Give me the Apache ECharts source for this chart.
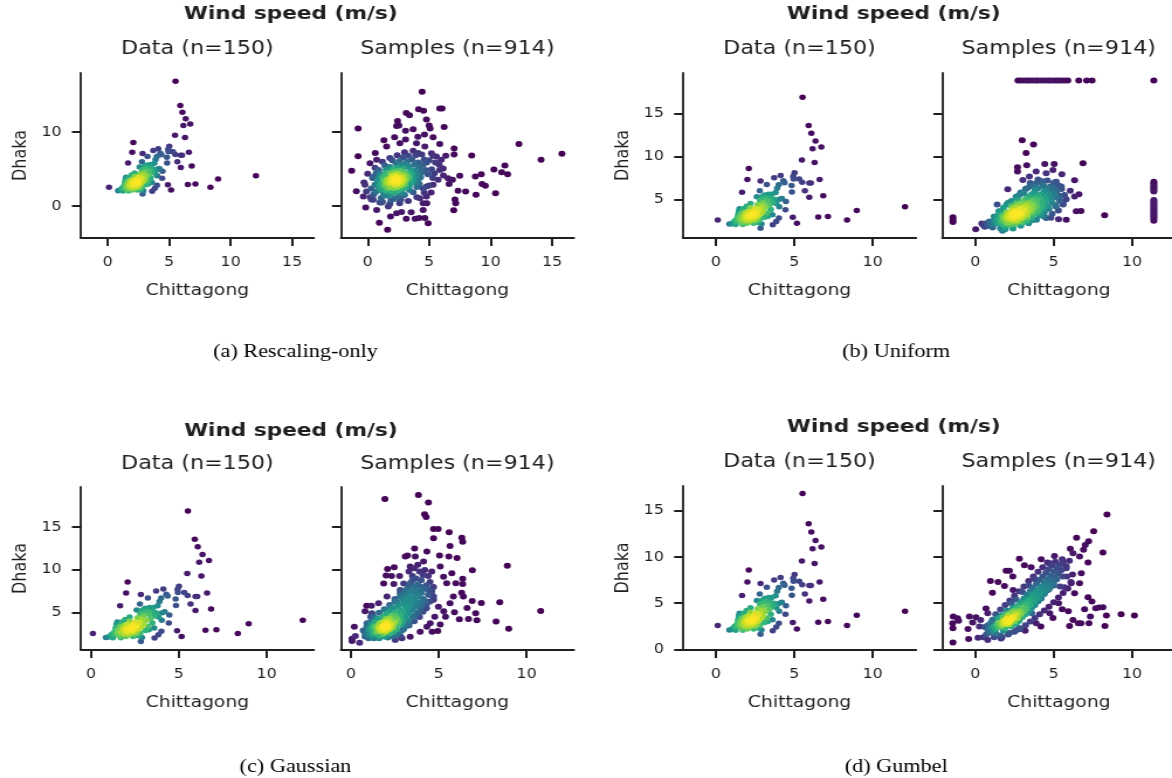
<!DOCTYPE html>
<html>
<head>
<meta charset="utf-8">
<script src="https://cdn.jsdelivr.net/npm/echarts@6/dist/echarts.min.js"></script>
<style>
  html, body { margin: 0; padding: 0; background: #ffffff; overflow: hidden; }
  #chart { width: 1002px; height: 778px; transform: scaleX(1.1697); transform-origin: 0 0; }
</style>
</head>
<body>
<div id="chart"></div>
<script>
// Observed daily wind speed pairs (Chittagong, Dhaka), m/s
const observed = [
  [5.52,16.9],[5.91,13.6],[6.08,12.7],[6.35,11.8],[6.72,11.1],[6.16,10.9],[5.48,9.58],[6.29,9.29],
  [2.09,8.6],[2.0,7.3],[2.84,7.12],[3.24,6.72],[3.71,7.52],[4.12,7.77],[4.29,7.16],[4.37,6.94],
  [5.01,8.1],[4.93,7.7],[4.95,7.37],[5.31,7.37],[5.5,7.0],[5.95,6.9],[6.05,6.9],[6.61,7.3],
  [4.82,6.61],[4.84,5.85],[5.67,6.0],[5.95,5.24],[6.84,5.42],[1.66,5.82],[2.79,6.0],[2.94,5.28],
  [4.46,4.73],[4.2,5.1],[4.03,4.12],[4.43,3.79],[4.01,2.82],[3.84,2.42],[3.62,2.02],[4.9,2.89],
  [5.16,2.2],[6.52,2.93],[7.14,3.0],[8.36,2.57],[8.98,3.69],[12.06,4.12],[0.11,2.57],[2.84,1.63],
  [0.85,2.1],[1.0,2.15],[1.1,2.3],[1.2,2.5],[1.3,2.4],[1.35,2.8],[1.4,3.2],[1.45,3.6],[1.5,2.6],
  [1.55,3.0],[1.6,2.3],[1.65,3.4],[1.7,2.7],[1.75,3.9],[1.8,3.1],[1.85,2.5],[1.9,3.5],[1.9,2.9],
  [1.95,4.2],[2.0,3.2],[2.0,2.6],[2.05,3.0],[2.1,2.8],[2.1,3.6],[2.15,2.4],[2.2,3.1],[2.2,4.0],
  [2.25,2.9],[2.3,3.3],[2.3,2.6],[2.35,3.0],[2.4,2.8],[2.4,3.6],[2.45,3.2],[2.5,2.5],[2.5,3.9],
  [2.55,3.0],[2.6,3.4],[2.6,2.7],[2.65,4.4],[2.7,3.1],[2.7,2.3],[2.75,3.8],[2.8,2.6],[2.8,4.9],
  [2.85,3.3],[2.9,4.2],[2.95,5.3],[3.0,3.6],[3.0,4.6],[3.05,5.0],[3.1,2.9],[3.1,5.5],[3.15,4.1],
  [3.2,5.2],[3.25,3.4],[3.3,4.8],[3.35,5.6],[3.4,4.3],[3.45,5.1],[3.5,3.8],[3.55,5.6],[3.6,4.6],
  [3.7,5.0],[3.8,5.8],[3.85,4.5],[3.9,6.3],[4.0,6.7],[4.05,5.0],[2.4,2.2],[2.0,2.2],[1.5,3.9],
  [2.6,5.3],[2.2,4.5],[3.3,3.0],[3.6,3.2],[2.9,2.1],[1.7,2.05],[1.25,2.05]
];

// Generated samples, rescaling-only model
const samplesRescaling = [
  [4.43,15.45],[4.14,13.1],[4.54,12.9],[5.86,13.2],[6.05,13.2],[3.14,12.6],[3.4,12.3],[2.43,11.5],
  [4.78,11.7],[-0.78,10.5],[6.22,10.7],[5.0,10.9],[5.08,10.5],[2.54,10.9],[2.35,10.85],[3.7,10.4],
  [3.08,10.2],[5.32,9.3],[4.62,9.7],[4.08,9.4],[1.32,8.9],[2.19,9.3],[3.08,9.0],[5.86,8.4],
  [7.03,7.8],[7.03,7.0],[8.46,6.85],[12.3,8.4],[15.8,7.1],[14.1,6.26],[-0.78,6.76],[0.62,7.2],
  [6.35,6.8],[-1.3,4.8],[11.16,5.5],[10.27,4.95],[10.9,4.6],[11.38,4.3],[9.24,4.3],[8.76,4.0],
  [9.3,3.0],[9.57,2.75],[7.49,4.1],[6.9,3.56],[6.62,3.0],[7.35,2.1],[7.97,1.98],[8.81,1.53],
  [10.4,1.76],[7.1,0.9],[7.16,0.4],[7.0,-0.54],[-0.92,2.03],[-0.16,-0.18],[0.95,-2.25],[1.62,-3.2],
  [1.86,-1.4],[2.76,-0.77],[3.14,-1.71],[3.86,-1.71],[4.19,-1.6],[4.65,-1.6],[4.92,-2.3],[3.54,-0.81],
  [4.51,-0.5],[4.81,0.4],[5.16,1.85],[5.43,4.46],[6.16,4.14],[6.54,3.78],[5.51,5.9],[5.81,5.59],
  [5.32,6.8],[1.68,-0.05],[1.14,0.5],[0.46,0.86],[-0.35,1.3],[-0.22,2.9],[4.24,1.08],[4.78,1.3],
  [0.19,5.8],[0.73,6.26],[1.54,8.06],[2.62,8.5],[3.97,8.5],[4.65,8.06],[5.19,7.16],[5.59,6.7],
  [5.99,6.26],[5.86,4.9],[6.14,5.1],[5.73,3.56],[4.78,2.66],[5.32,2.88],[4.51,0.4],[0.73,-0.5],
  [2.35,-0.95],
  [2.4,3.6],[2.2,3.4],[2.6,3.8],[2.3,3.9],[2.5,3.3],[2.1,3.7],[2.7,3.5],[2.4,3.1],[2.3,4.2],
  [2.8,4.0],[2.0,3.2],[2.6,3.0],[1.9,3.8],[2.9,3.7],[2.2,2.9],[2.5,4.4],[1.8,3.3],[3.0,4.2],
  [2.7,2.8],[2.0,4.1],[3.1,3.5],[1.7,3.0],[2.4,2.6],[2.9,4.6],[1.6,3.6],[3.2,4.0],[2.1,2.5],
  [2.6,4.8],[1.8,2.6],[3.3,4.5],[1.5,3.2],[2.8,2.4],[2.2,4.6],[3.4,3.8],[1.4,2.8],[3.0,3.0],
  [1.9,4.4],[3.5,4.9],[2.5,2.2],[1.3,3.5],[3.6,4.3],[2.0,2.0],[2.9,5.1],[1.2,2.4],[3.7,3.6],
  [1.7,4.5],[3.3,5.4],[2.3,1.9],[1.1,3.0],[3.9,4.8],[2.4,5.2],[1.5,2.1],[3.8,5.6],[1.0,2.2],
  [4.0,4.2],[1.4,4.1],[3.1,2.5],[2.7,5.6],[0.9,2.7],[4.2,5.2],[1.9,1.6],[3.5,3.1],[1.2,3.9],
  [4.1,5.9],[2.8,1.8],[0.8,3.4],[4.4,4.6],[2.0,5.0],[3.4,2.2],[1.6,1.4],[3.2,6.0],[0.7,2.0],
  [4.5,5.6],[1.0,4.3],[2.5,1.3],[3.9,3.2],[1.8,5.3],[4.3,3.9],[0.6,2.9],[3.6,6.3],[1.3,1.6],
  [2.6,6.1],[4.7,4.9],[0.5,1.6],[3.0,1.5],[1.5,4.9],[4.6,6.3],[2.2,1.0],[0.9,4.9],[4.0,2.6],
  [2.3,5.8],[0.4,3.8],[3.7,1.9],[1.1,1.1],[4.8,5.9],[2.9,6.6],[0.3,2.4],[4.2,3.0],[1.9,0.8],
  [3.3,6.8],[0.7,4.5],[2.7,0.9],[4.9,4.3],[1.4,5.5],[3.9,6.9],[0.2,1.2],[4.5,2.4],[2.0,6.2],
  [1.2,0.6],[4.1,7.2],
  [0.5,4.0],[0.6,5.2],[1.2,6.0],[1.8,6.5],[2.4,6.9],[3.0,7.3],[3.7,7.5],[4.4,7.0],[5.0,6.2],
  [5.2,5.0],[5.3,3.8],[5.0,2.8],[4.6,1.8],[4.0,1.2],[3.3,0.7],[2.6,0.4],[1.8,0.3],[1.0,0.5],
  [0.3,0.9],[-0.1,2.0],[-0.3,3.2],[0.0,4.4],[1.6,2.4],[2.8,3.2],[2.1,4.9],[3.4,2.8],[1.5,4.5],
  [3.1,5.7],[0.9,3.7],[4.1,3.5]
];

// Generated samples, uniform-marginal model
const samplesUniform = [
  [2.72,18.85],[2.9,18.85],[3.1,18.85],[3.3,18.85],[3.45,18.85],[3.65,18.85],[3.85,18.85],[4.0,18.85],
  [4.2,18.85],[4.4,18.85],[4.6,18.85],[4.75,18.85],[4.95,18.85],[5.15,18.85],[5.3,18.85],[5.5,18.85],
  [5.7,18.85],[5.9,18.85],[6.6,18.85],[7.1,18.85],[7.45,18.85],[11.39,18.85],
  [11.39,7.06],[11.39,6.86],[11.39,6.67],[11.39,6.47],[11.39,6.28],[11.39,6.1],[11.39,5.9],
  [11.39,4.92],[11.39,4.72],[11.39,4.53],[11.39,4.33],[11.39,4.14],[11.39,3.95],[11.39,3.75],
  [11.39,3.56],[11.39,3.37],[11.39,3.17],[11.39,2.98],[11.39,2.75],[11.39,2.5],
  [-1.43,2.9],[-1.43,2.59],[-1.43,2.35],
  [2.99,11.9],[3.71,11.4],[3.24,10.4],[3.28,8.97],[4.43,9.12],[5.03,9.12],[6.87,9.2],[2.69,8.74],
  [2.69,8.23],[5.52,7.92],[6.33,7.22],[2.07,6.17],[1.39,4.38],[0.02,1.5],[0.41,2.16],[6.06,6.0],
  [6.61,5.58],[6.33,5.31],[6.74,3.64],[6.44,3.6],[8.25,3.13],[5.8,2.6],[5.31,2.67],[4.82,2.83],
  [4.52,2.8],[4.3,3.17],[3.94,3.48],[5.59,4.53],[5.69,5.5],[5.48,6.48],[5.16,7.06],[4.52,8.03],
  [3.45,7.65],[3.03,7.26],[3.88,8.23],[4.95,8.42],[5.37,4.92],[5.16,4.14],[3.67,2.59],[3.24,2.4],
  [1.73,1.34],[0.9,2.4],
  [2.3,3.0],[2.1,2.8],[2.5,3.2],[2.2,3.3],[2.4,2.7],[2.0,3.0],[2.6,3.5],[1.9,2.6],[2.7,3.1],
  [2.3,3.6],[1.8,2.9],[2.8,3.8],[2.5,2.5],[2.1,2.4],[2.9,3.4],[1.7,2.5],[3.0,4.0],[2.4,3.9],
  [2.0,2.2],[3.1,3.7],[1.6,2.3],[3.2,4.3],[2.7,2.7],[1.5,2.7],[3.3,4.0],[2.6,4.1],[1.4,2.2],
  [3.4,4.6],[2.9,3.0],[1.3,2.5],[3.5,4.3],[2.2,2.0],[3.6,4.9],[2.8,4.4],[1.2,2.1],[3.7,4.5],
  [3.1,3.2],[1.1,2.4],[3.8,5.1],[2.5,2.1],[3.9,4.8],[3.3,3.5],[1.0,2.0],[4.0,5.4],[3.0,4.7],
  [1.8,2.0],[4.1,5.0],[3.5,3.8],[0.9,2.3],[4.2,5.6],[3.2,5.0],[4.3,4.6],[2.0,3.5],[3.7,4.0],
  [0.8,1.9],[4.4,5.9],[3.4,5.3],[4.5,5.2],[1.7,3.1],[3.9,4.2],[4.6,6.2],[0.7,2.2],[3.6,5.6],
  [4.7,5.5],[2.6,4.5],[4.0,3.8],[1.5,3.2],[4.8,6.5],[3.8,5.9],[4.9,5.8],[0.6,1.8],[4.2,4.3],
  [2.3,4.2],[5.0,6.3],[4.0,6.3],[1.3,2.9],[4.5,4.8],[5.1,7.0],[3.1,5.7],[1.9,1.7],[4.3,6.7],
  [4.8,5.0],[2.9,2.4],[5.2,6.0],[3.7,6.5],[0.5,2.0],[4.6,7.2],[5.0,5.5],[3.3,2.9],[4.4,3.5],
  [2.7,5.0],[5.3,6.6],[1.1,1.7],[3.5,6.9],[4.1,3.4],[1.6,1.6],[5.4,5.4],[4.0,7.3],[2.4,1.7],
  [5.5,6.2],
  [1.5,3.6],[1.8,4.0],[2.0,4.4],[2.3,4.8],[2.6,5.3],[2.9,5.8],[3.2,6.2],[3.5,6.6],[3.9,6.9],
  [4.3,7.1],[1.9,1.5],[2.4,1.6],[2.9,1.9],[3.4,2.2],[3.9,2.6],[4.4,3.0],[4.9,3.3],[5.3,3.7],
  [5.6,4.4],[5.8,5.0],[3.0,2.3],[3.6,2.9],[4.1,3.1],[4.7,3.9],[5.1,4.3],[5.4,4.8],[2.6,2.2],
  [3.3,2.6],[3.8,3.3],[4.6,4.2],[4.9,4.6],[5.2,5.2],[1.2,3.0],[1.6,3.6],[2.1,4.6],[2.8,5.5],
  [3.3,6.3],[3.8,6.1],[4.4,6.5],[5.0,6.9],[2.5,3.6],[2.8,3.3],[3.0,2.8],[3.3,3.2],[3.6,3.5],
  [3.9,3.7],[4.2,3.9],[4.4,4.1],[2.2,2.3],[2.7,2.5],
  [2.25,2.95],[2.35,3.05],[2.15,3.1],[2.45,2.85],[2.2,2.75],[2.4,3.25],[2.05,2.85],[2.55,3.1],
  [2.3,2.85],[2.1,3.2],[2.5,2.95],[2.35,3.35]
];

// Generated samples, Gaussian-marginal model
const samplesGaussian = [
  [1.93,18.3],[3.84,18.75],[4.41,17.9],[4.19,16.5],[4.28,16.2],[4.7,14.8],[4.96,14.8],[5.59,14.4],
  [4.7,13.7],[6.31,13.75],[6.36,13.3],[5.64,12.8],[3.62,12.5],[4.32,12.15],[3.09,11.56],[3.22,11.7],
  [5.04,11.7],[5.57,11.56],[6.04,11.4],[8.9,10.5],[6.91,9.96],[2.08,10.1],[2.46,10.3],[2.77,9.3],
  [2.0,9.34],[2.31,9.3],[1.86,8.4],[2.44,8.36],[6.36,8.98],[6.36,8.36],[5.97,8.44],[6.3,7.34],
  [6.4,6.88],[6.9,6.37],[7.42,6.13],[8.47,6.21],[10.8,5.2],[6.61,5.55],[7.1,4.92],[7.17,4.1],
  [6.69,4.26],[6.17,4.22],[5.89,5.04],[8.26,3.95],[8.98,3.12],[4.94,2.85],[4.62,2.77],[5.08,3.6],
  [4.77,4.53],[5.38,4.53],[5.28,5.16],[0.89,5.82],[1.16,5.82],[0.8,5.16],[1.12,4.53],[0.19,3.36],
  [0.06,1.95],[0.06,1.68],[0.49,1.48],[0.25,2.27],[2.52,1.8],[3.94,2.77],[4.32,3.36],[5.64,6.09],
  [5.83,6.88],[5.45,8.44],[5.74,9.6],[5.08,10.4],[5.27,9.2],[3.66,11.56],[4.13,10.98],[3.37,10.4],
  [2.8,7.66],[2.05,6.88],[1.57,6.1],[1.19,4.92],[0.91,3.75],[3.37,2.19],[2.9,2.0],[4.51,3.75],
  [4.98,5.7],[4.7,6.88],
  [1.9,3.2],[2.0,3.0],[1.8,3.4],[2.1,3.5],[1.7,2.9],[2.2,3.1],[1.9,2.7],[2.0,3.7],[1.6,3.2],
  [2.3,3.6],[1.8,2.5],[2.4,3.3],[1.5,2.8],[2.1,4.0],[2.5,3.9],[1.4,3.3],[2.2,2.6],[1.7,3.8],
  [2.6,4.3],[1.3,2.6],[2.4,2.8],[2.0,4.3],[2.7,3.7],[1.2,3.1],[2.8,4.6],[1.6,2.3],[2.3,4.6],
  [2.9,4.1],[1.1,2.4],[2.5,5.0],[3.0,5.0],[1.4,3.9],[2.6,2.5],[3.1,4.5],[1.0,2.9],[2.8,5.3],
  [3.2,5.5],[1.9,2.2],[2.2,5.1],[3.3,4.9],[0.9,2.5],[2.7,5.8],[3.4,5.9],[1.5,4.3],[3.0,6.1],
  [3.5,5.3],[2.9,2.9],[3.2,6.5],[3.6,6.3],[0.8,2.2],[2.4,5.5],[3.4,6.8],[3.7,5.7],[1.2,3.7],
  [3.1,3.4],[3.8,6.9],[3.3,7.2],[2.0,4.8],[3.9,6.2],[3.5,7.5],[2.6,6.2],[4.0,7.3],[3.6,8.0],
  [1.8,4.5],[4.1,6.6],[3.2,7.8],[3.8,8.3],[2.9,6.6],[4.2,7.8],[3.4,8.5],[4.0,8.8],[3.7,9.0],
  [4.3,8.2],[3.0,7.0],[4.1,9.4],[3.5,9.3],[4.4,7.1],[3.9,9.8],[2.8,7.3],[4.2,10.0],[3.6,10.2],
  [4.5,8.6],[3.3,9.8],[4.4,9.3],[3.8,10.6],[4.6,9.8],[4.0,5.8],[4.3,6.0],[3.3,3.8],[3.6,4.6],
  [1.0,2.0],[1.3,2.0],[2.1,2.1],[2.8,2.3],[4.6,7.5],[4.7,6.5],[3.0,8.4],[2.7,4.0],[2.5,6.6],
  [0.7,2.9],[0.9,3.4],[1.1,3.9],[1.3,4.5],[1.6,5.0],[1.9,5.4],[2.2,5.9],[2.5,6.3],[2.8,6.9],
  [3.1,7.5],[3.3,8.2],[3.5,8.8],[1.2,2.2],[1.6,2.0],[2.4,2.2],[2.7,2.7],[3.0,3.1],[3.3,3.5],
  [3.6,4.0],[3.9,4.5],[4.1,5.1],[4.3,5.5],[4.5,6.3],[4.6,7.0],[4.7,8.0],[3.9,7.6],[3.7,6.8],
  [3.4,6.1],[3.1,5.8],[2.8,5.0],[2.5,4.6],[2.2,4.3],[1.9,3.9],[1.6,3.6],[1.3,3.4],[1.1,3.2],
  [0.8,2.6],[2.6,3.1],[2.9,3.6],[3.2,4.1],[3.5,4.5],[3.8,5.0],[4.0,5.4],[4.2,6.4],[4.4,7.7],
  [4.0,8.0],[3.7,7.3],[3.1,6.6],[2.3,5.6],[2.0,5.3],
  [1.95,3.15],[1.85,3.0],[2.05,3.3],[1.75,3.1],[2.1,3.0],[1.9,3.45],[2.0,2.85],[1.8,3.25],
  [2.15,3.25],[1.95,2.95]
];

// Generated samples, Gumbel-marginal model
const samplesGumbel = [
  [8.4,14.6],[7.55,12.8],[6.46,12.1],[7.23,11.7],[7.01,11.3],[6.9,10.8],[8.14,10.5],[6.06,10.9],
  [6.23,10.4],[6.65,10.05],[7.19,9.4],[2.81,9.8],[3.13,9.1],[3.56,8.9],[5.05,10.1],[5.54,9.76],
  [4.2,9.76],[1.96,8.5],[2.17,8.5],[0.96,7.4],[1.45,7.3],[2.39,7.88],[1.86,6.87],[1.09,6.14],
  [2.41,6.43],[6.76,8.24],[6.65,7.16],[6.33,6.07],[6.12,7.16],[7.19,5.64],[7.44,5.17],[6.97,4.34],
  [7.68,4.45],[7.89,4.52],[8.14,4.55],[7.34,3.54],[8.36,3.65],[9.3,3.79],[10.15,3.65],[6.57,2.82],
  [6.74,2.82],[7.25,2.82],[8.27,2.53],[6.01,2.53],[6.23,3.18],[5.93,4.12],[5.54,4.34],[4.95,3.4],
  [4.75,3.9],[4.18,2.46],[3.88,2.82],[3.18,2.02],[2.64,2.1],[1.64,1.16],[0.79,1.01],[0.17,1.26],
  [-0.43,1.12],[-1.43,0.72],[-1.43,2.28],[-1.45,2.82],[-1.13,3.36],[-1.41,3.54],[-1.07,3.1],
  [-0.47,2.2],[-0.38,3.54],[-0.17,2.89],[0.04,3.47],[0.26,2.46],[0.34,3.18],[0.68,4.41],[0.79,3.9],
  [5.31,4.99],[5.69,6.72],[5.84,7.88],[4.73,9.32],[5.8,8.78],
  [2.1,3.0],[1.9,2.8],[2.3,3.2],[2.0,3.3],[2.2,2.7],[1.8,3.1],[2.4,3.5],[1.7,2.6],[2.5,3.0],
  [2.1,3.6],[1.6,2.9],[2.6,3.8],[2.3,2.5],[1.9,2.3],[2.7,3.4],[1.5,2.4],[2.8,4.1],[2.2,3.9],
  [1.4,2.7],[2.9,3.8],[1.8,2.0],[3.0,4.5],[2.5,4.2],[1.3,2.2],[3.1,4.1],[2.6,2.8],[1.2,2.5],
  [3.2,4.8],[2.4,4.5],[1.1,2.0],[3.3,4.4],[2.8,3.1],[1.0,2.3],[3.4,5.2],[2.7,4.7],[0.9,1.8],
  [3.5,4.8],[3.0,3.5],[1.5,3.3],[3.6,5.6],[2.9,5.1],[0.8,2.1],[3.7,5.1],[3.2,3.8],[1.3,1.7],
  [3.8,6.0],[3.1,5.5],[3.9,5.5],[2.0,4.2],[3.4,4.1],[0.7,1.6],[4.0,6.4],[3.3,5.9],[4.1,5.9],
  [1.7,3.7],[3.6,4.5],[4.2,6.8],[3.5,6.3],[4.3,6.3],[2.3,5.0],[3.8,4.8],[0.6,2.4],[4.4,7.2],
  [3.7,6.7],[4.5,6.7],[1.0,2.9],[4.0,5.2],[4.6,7.6],[3.9,7.1],[4.7,7.0],[2.6,5.4],[4.2,5.5],
  [4.8,8.0],[4.1,7.5],[4.9,7.4],[0.5,1.3],[4.4,6.0],[5.0,8.4],[4.3,7.9],[5.1,7.8],[3.0,6.2],
  [4.6,6.4],[5.2,8.8],[4.5,8.3],[5.3,8.2],[1.6,1.5],[4.8,6.8],[5.4,9.2],[4.7,8.7],[5.5,8.6],
  [2.2,1.8],[5.0,7.2],[5.6,9.5],[3.4,6.9],[5.2,7.6],[2.8,2.3],[5.8,9.0],[4.9,9.1],[5.4,6.8],
  [3.6,3.9],[5.6,7.9],[6.0,9.6],[3.8,7.6],[5.1,9.5],
  [0.8,2.6],[1.1,3.2],[1.3,3.8],[1.6,4.3],[1.9,4.8],[2.2,5.3],[2.5,5.8],[2.8,6.3],[3.1,6.8],
  [3.4,7.4],[3.7,7.9],[4.0,8.4],[4.3,8.9],[4.6,9.4],[1.2,1.3],[1.7,1.3],[2.1,1.6],[2.5,1.9],
  [2.9,2.2],[3.2,2.6],[3.5,3.0],[3.8,3.4],[4.1,3.8],[4.4,4.2],[4.7,4.6],[5.0,5.1],[5.3,5.6],
  [5.6,6.1],[5.9,6.6],[6.1,7.3],[6.2,8.1],[2.6,3.4],[2.9,3.9],[3.2,4.4],[3.5,4.8],[3.8,5.2],
  [4.1,5.7],[4.4,6.1],[4.7,6.5],[5.0,6.9],[2.0,3.8],[2.4,4.0],[2.7,4.5],[3.0,5.0],[3.3,5.4],
  [3.6,5.9],[3.9,6.3],[4.2,6.7],[1.4,3.4],[1.8,3.5],
  [2.05,3.0],[1.95,2.9],[2.15,3.1],[2.0,3.15],[2.1,2.85],[1.9,3.05],[2.2,3.0],[2.05,2.75],
  [2.25,3.25],[1.85,2.85]
];

// Tick values per panel
const ticksX_a = [0, 5, 10, 15];
const ticksY_a = [0, 10];
const ticksX_b = [0, 5, 10];
const ticksY_b = [5, 10, 15];
const ticksX_c = [0, 5, 10];
const ticksY_c = [5, 10, 15];
const ticksX_d = [0, 5, 10];
const ticksY_d = [0, 5, 10, 15];

// Sample sizes quoted in the subplot titles
const N_DATA = 150;
const N_SAMPLES = 914;

const VIRIDIS = ['#440154','#482878','#3e4989','#31688e','#26828e','#1f9e89','#35b779','#6ece58','#b5de2b','#fde725'];
const INK = '#1f1f1f';
const SANS = '"DejaVu Sans", sans-serif';

// Gaussian kernel density (Scott's factor for nominal size n, full covariance),
// scaled to [0, 1] and shaped by gamma for the colour scale
function densityShade(pts, nominal, gamma) {
  const n = pts.length;
  let mx = 0, my = 0;
  pts.forEach(p => { mx += p[0]; my += p[1]; });
  mx /= n; my /= n;
  let sxx = 0, syy = 0, sxy = 0;
  pts.forEach(p => { const dx = p[0] - mx, dy = p[1] - my; sxx += dx * dx; syy += dy * dy; sxy += dx * dy; });
  sxx /= (n - 1); syy /= (n - 1); sxy /= (n - 1);
  const f2 = Math.pow(nominal, -1 / 3);
  const a = sxx * f2, b = sxy * f2, c = syy * f2;
  const det = a * c - b * b;
  const ia = c / det, ib = -b / det, ic = a / det;
  const raw = pts.map(p => {
    let s = 0;
    for (const q of pts) {
      const dx = p[0] - q[0], dy = p[1] - q[1];
      s += Math.exp(-0.5 * (ia * dx * dx + 2 * ib * dx * dy + ic * dy * dy));
    }
    return s;
  });
  const lo = Math.min(...raw), hi = Math.max(...raw);
  return raw.map(v => Math.pow((v - lo) / (hi - lo), gamma));
}

// Panel layout (chart coordinate space)
const panels = [
  { pts: observed,         n: N_DATA,    g: 1.0, left: 69.2,  top: 73,  h: 165, xr: [-2.17, 16.77], yr: [-4.3, 18.0],  xt: ticksX_a, yt: ticksY_a, first: true },
  { pts: samplesRescaling, n: N_SAMPLES, g: 1.5, left: 291.5, top: 73,  h: 165, xr: [-2.17, 16.77], yr: [-4.3, 18.0],  xt: ticksX_a, yt: ticksY_a, first: false },
  { pts: observed,         n: N_DATA,    g: 1.0, left: 584.0, top: 73,  h: 165, xr: [-2.1, 12.76],  yr: [0.48, 19.74], xt: ticksX_b, yt: ticksY_b, first: true },
  { pts: samplesUniform,   n: N_SAMPLES, g: 1.5, left: 805.7, top: 73,  h: 165, xr: [-2.1, 12.76],  yr: [0.48, 19.74], xt: ticksX_b, yt: ticksY_b, first: false },
  { pts: observed,         n: N_DATA,    g: 1.0, left: 69.2,  top: 487, h: 163, xr: [-0.57, 12.69], yr: [0.63, 19.7],  xt: ticksX_c, yt: ticksY_c, first: true },
  { pts: samplesGaussian,  n: N_SAMPLES, g: 1.5, left: 291.5, top: 487, h: 163, xr: [-0.57, 12.69], yr: [0.63, 19.7],  xt: ticksX_c, yt: ticksY_c, first: false },
  { pts: observed,         n: N_DATA,    g: 1.0, left: 584.0, top: 486, h: 164, xr: [-2.1, 12.76],  yr: [-0.08, 17.7], xt: ticksX_d, yt: ticksY_d, first: true },
  { pts: samplesGumbel,    n: N_SAMPLES, g: 1.5, left: 805.7, top: 486, h: 164, xr: [-2.1, 12.76],  yr: [-0.08, 17.7], xt: ticksX_d, yt: ticksY_d, first: false }
];
const GRID_W = 199.1;

const grid = [], xAxis = [], yAxis = [], series = [], visualMap = [];
panels.forEach((p, i) => {
  grid.push({ left: p.left, top: p.top, width: GRID_W, height: p.h, containLabel: false, outerBoundsMode: 'none' });
  xAxis.push({
    type: 'value', gridIndex: i, min: p.xr[0], max: p.xr[1],
    axisLine: { show: true, onZero: false, lineStyle: { color: INK, width: 2 } },
    axisTick: { show: true, length: 8, customValues: p.xt, lineStyle: { color: INK, width: 2 } },
    axisLabel: { show: true, customValues: p.xt, margin: 17, fontSize: 13.5, fontFamily: SANS, color: INK },
    splitLine: { show: false },
    name: 'Chittagong', nameLocation: 'middle', nameGap: 45,
    nameTextStyle: { fontSize: 16, fontFamily: SANS, color: INK }
  });
  yAxis.push({
    type: 'value', gridIndex: i, min: p.yr[0], max: p.yr[1],
    axisLine: { show: true, onZero: false, lineStyle: { color: INK, width: 1.8 } },
    axisTick: { show: true, length: 7.7, customValues: p.yt, lineStyle: { color: INK, width: 2 } },
    axisLabel: { show: p.first, customValues: p.yt, margin: 16.5, fontSize: 13.5, fontFamily: SANS, color: INK },
    splitLine: { show: false },
    name: p.first ? 'Dhaka' : '', nameLocation: 'middle', nameGap: 43,
    nameTextStyle: { fontSize: 16, fontFamily: SANS, color: INK }
  });
  const shade = densityShade(p.pts, p.n, p.g);
  const rows = p.pts.map((q, k) => [q[0], q[1], shade[k]]).sort((u, v) => u[2] - v[2]);
  series.push({
    type: 'scatter', xAxisIndex: i, yAxisIndex: i, data: rows,
    symbol: 'circle', symbolSize: p.first ? 5.5 : 6, silent: true, animation: false,
    itemStyle: { opacity: 1 }
  });
  visualMap.push({
    show: false, type: 'continuous', seriesIndex: i, dimension: 2,
    min: 0, max: 1, inRange: { color: VIRIDIS }
  });
});

function label(text, x, y, font, fill) {
  return { type: 'text', x: x, y: y, silent: true,
    style: { text: text, font: font, fill: fill || INK, align: 'center', verticalAlign: 'middle' } };
}
const TITLE_FONT = 'bold 18.5px ' + SANS;
const SUB_FONT = '19px ' + SANS;
const CAP_FONT = '19px "Liberation Serif", "Times New Roman", serif';
const graphic = [
  label('Wind speed (m/s)', 248.6, 14.5, TITLE_FONT),
  label('Wind speed (m/s)', 764.1, 14.5, TITLE_FONT),
  label('Wind speed (m/s)', 248.7, 431.5, TITLE_FONT),
  label('Wind speed (m/s)', 764.1, 427.5, TITLE_FONT),
  label('Data (n=150)', 168.8, 49.5, SUB_FONT),
  label('Samples (n=914)', 391.0, 49.5, SUB_FONT),
  label('Data (n=150)', 683.5, 49.5, SUB_FONT),
  label('Samples (n=914)', 905.1, 49.5, SUB_FONT),
  label('Data (n=150)', 168.8, 464, SUB_FONT),
  label('Samples (n=914)', 391.0, 464, SUB_FONT),
  label('Data (n=150)', 683.5, 462.5, SUB_FONT),
  label('Samples (n=914)', 905.1, 462.5, SUB_FONT),
  label('(a) Rescaling-only', 252.6, 352, CAP_FONT, '#000'),
  label('(b) Uniform', 766.2, 352, CAP_FONT, '#000'),
  label('(c) Gaussian', 252.6, 767, CAP_FONT, '#000'),
  label('(d) Gumbel', 766.2, 767, CAP_FONT, '#000')
];

const chart = echarts.init(document.getElementById('chart'), null, { renderer: 'canvas' });
chart.setOption({
  backgroundColor: '#ffffff',
  animation: false,
  grid: grid, xAxis: xAxis, yAxis: yAxis, series: series,
  visualMap: visualMap, graphic: graphic
});
</script>
</body>
</html>
